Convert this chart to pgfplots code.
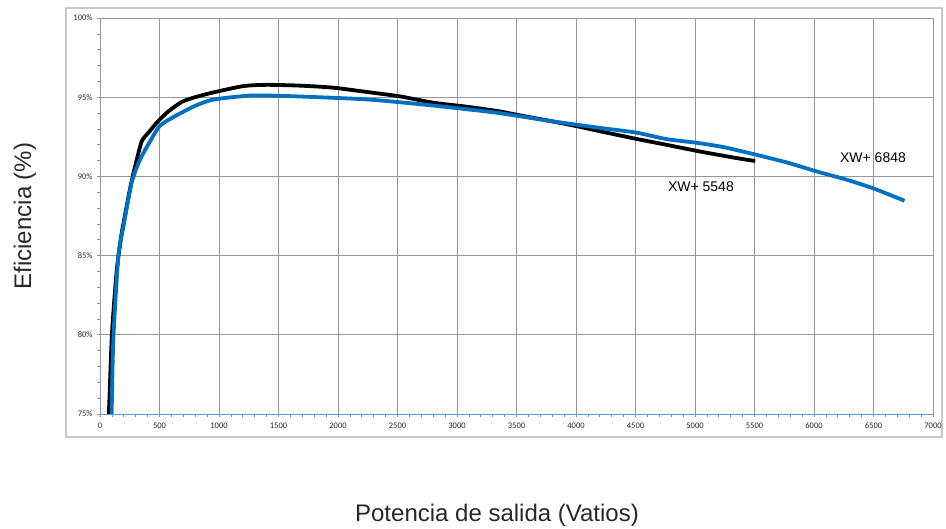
\documentclass[border=0pt]{standalone}
\usepackage{pgfplots}
\pgfplotsset{compat=1.18}
\usepackage{fontspec}
\setmainfont{Liberation Sans}
\newfontfamily\carlito{Carlito}
\definecolor{xwblue}{RGB}{0,112,192}
\definecolor{gridgray}{RGB}{150,150,150}
\definecolor{axblue}{RGB}{91,155,213}
\definecolor{titlegray}{RGB}{40,40,40}
\begin{document}
\begin{tikzpicture}[x=1pt,y=1pt]
\useasboundingbox (-100,-115) rectangle (846,414);
\draw[line width=1.5pt, black!22] (-34,-23) rectangle (842,406);
\begin{axis}[
  at={(0,0)}, anchor=south west,
  scale only axis, width=833pt, height=396pt,
  xmin=0, xmax=7000, ymin=75, ymax=100,
  axis x line*=bottom, axis y line*=left,
  x axis line style={axblue, line width=0.8pt},
  y axis line style={gridgray, line width=0.8pt},
  xtick={0,500,...,7000}, ytick={75,80,...,100},
  minor x tick num=4, minor y tick num=4,
  tick align=outside,
  major tick length=3pt, minor tick length=3pt,
  x tick style={axblue, line width=0.6pt},
  y tick style={gridgray, line width=0.6pt},
  grid=major,
  major grid style={gridgray, line width=0.8pt},
  /pgf/number format/assume math mode=true,
  /pgf/number format/1000 sep={},
  tick label style={font=\carlito\fontsize{8.5}{10}\selectfont, text=black!85},
  yticklabel={\pgfmathprintnumber{\tick}\%},
  xticklabel style={yshift=-2pt},
  yticklabel style={xshift=-1pt},
]
\addplot[black, line width=3.8pt, smooth, tension=0.4] coordinates {
(75,75) (100,80) (140,84) (180,86.3) (204,87.3) (252,89.2) (294,90.6)
(350,92.2) (406,92.75) (490,93.5) (574,94.1) (687,94.7) (799,95.0)
(952,95.3) (1205,95.7) (1401,95.78) (1681,95.73) (1961,95.6)
(2242,95.33) (2522,95.05) (2802,94.65) (3082,94.4) (3362,94.1)
(3530,93.85) (3782,93.5) (4000,93.18) (4202,92.85) (4480,92.41)
(4763,91.99) (5043,91.57) (5323,91.19) (5506,90.97)
};
\addplot[xwblue, line width=3.8pt, smooth, tension=0.4] coordinates {
(98,75) (112,79.7) (154,84.95) (196,86.8) (266,89.6) (336,91.05)
(420,92.2) (504,93.2) (630,93.8) (799,94.45) (952,94.85) (1261,95.1)
(1541,95.08) (1961,94.96) (2242,94.86) (2522,94.68) (2802,94.47)
(3082,94.24) (3362,93.99) (3782,93.5) (4202,93.06) (4502,92.77)
(4763,92.35) (5015,92.12) (5239,91.85) (5506,91.38) (5772,90.88)
(6024,90.31) (6276,89.79) (6500,89.24) (6761,88.46)
};
\node[font=\fontsize{14}{16}\selectfont] at (axis cs:6496,91.16) {XW+ 6848};
\node[font=\fontsize{14}{16}\selectfont] at (axis cs:5050,89.33) {XW+ 5548};
\end{axis}
\node[rotate=90, text=titlegray, font=\fontsize{24}{27}\selectfont] at (-75,198) {Eficiencia (\%)};
\node[text=titlegray, font=\fontsize{24}{27}\selectfont] at (397,-101) {Potencia de salida (Vatios)};
\end{tikzpicture}
\end{document}
